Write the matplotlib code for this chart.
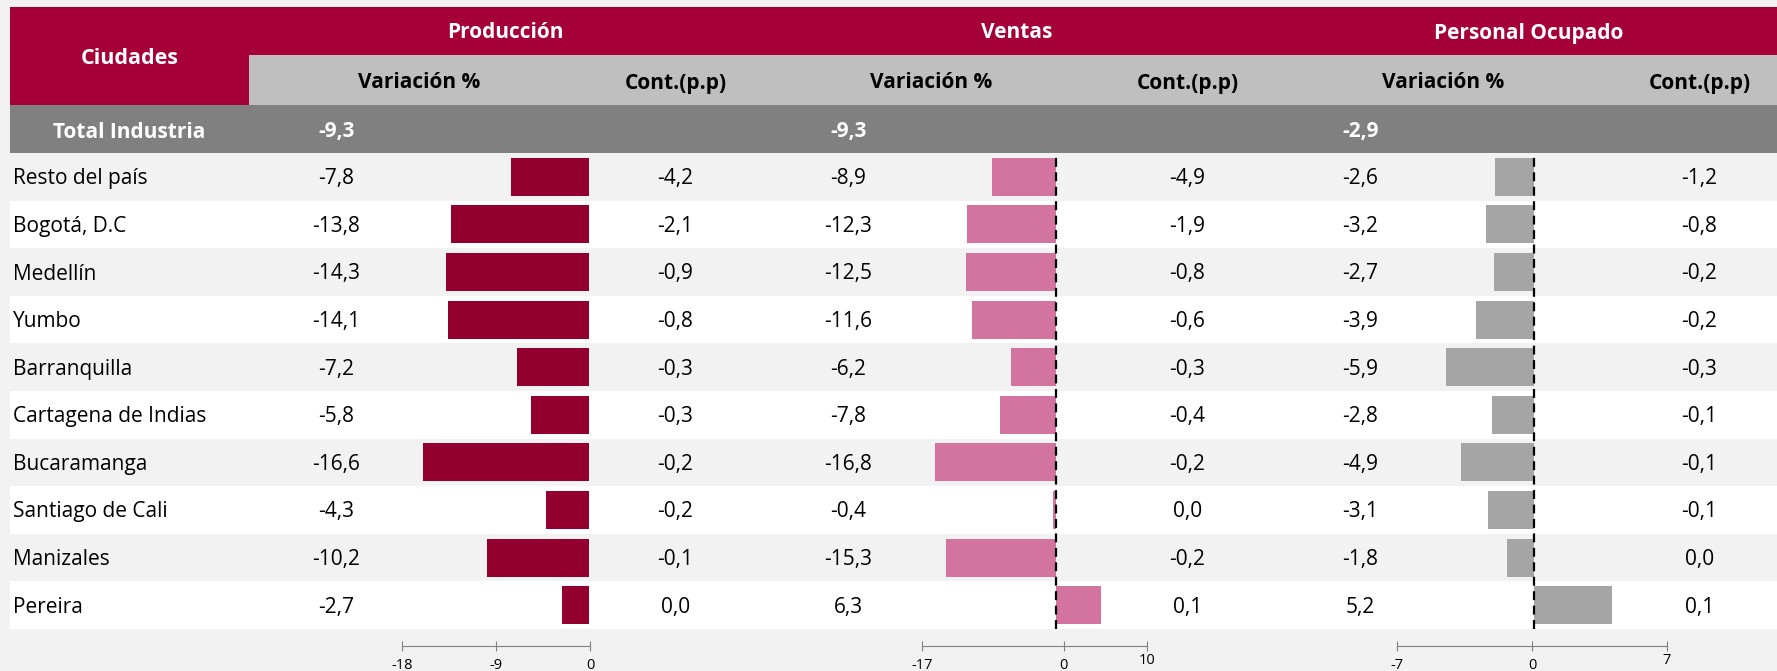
import matplotlib.pyplot as plt
from matplotlib.patches import Rectangle
from matplotlib.transforms import ScaledTranslation

# data
cities = ["Resto del país", "Bogotá, D.C", "Medellín", "Yumbo", "Barranquilla",
          "Cartagena de Indias", "Bucaramanga", "Santiago de Cali", "Manizales", "Pereira"]
prod_var = [-7.8, -13.8, -14.3, -14.1, -7.2, -5.8, -16.6, -4.3, -10.2, -2.7]
prod_cont = [-4.2, -2.1, -0.9, -0.8, -0.3, -0.3, -0.2, -0.2, -0.1, 0.0]
ventas_var = [-8.9, -12.3, -12.5, -11.6, -6.2, -7.8, -16.8, -0.4, -15.3, 6.3]
ventas_cont = [-4.9, -1.9, -0.8, -0.6, -0.3, -0.4, -0.2, 0.0, -0.2, 0.1]
pers_var = [-2.6, -3.2, -2.7, -3.9, -5.9, -2.8, -4.9, -3.1, -1.8, 5.2]
pers_cont = [-1.2, -0.8, -0.2, -0.2, -0.3, -0.1, -0.1, -0.1, 0.0, 0.1]
total_var = [-9.3, -9.3, -2.9]
groups = ["Producción", "Ventas", "Personal Ocupado"]
scale_ticks = [[-18, -9, 0], [-17, 0, 10], [-7, 0, 7]]

plt.rcParams['font.family'] = ['Open Sans', 'DejaVu Sans']
plt.rcParams['axes.unicode_minus'] = False

W, H = 1777, 671
RED = "#A50038"
SUB = "#BFBFBF"
TOT = "#808080"
LIGHT = "#F2F2F2"
bar_colors = ["#930030", "#D273A0", "#A5A5A5"]
FS = 15
FSB = 15


def fmt(v):
    return f"{v:.1f}".replace(".", ",").replace("-0,0", "0,0")


def rect(x0, y0, x1, y1):
    return [x0 / W, 1 - y1 / H, (x1 - x0) / W, (y1 - y0) / H]


fig = plt.figure(figsize=(W / 100, H / 100), dpi=100, facecolor=LIGHT)
bg = fig.add_axes([0, 0, 1, 1])
bg.set_xlim(0, W)
bg.set_ylim(H, 0)
bg.axis("off")

left, top = 10, 7
city_w = 249
group_w = 512
var_w = 341
row_top, row_h = 153, 47.6
dy = 2  # small text baseline nudge

# header cells
bg.add_patch(Rectangle((left, top), W - left, 48, color=RED, lw=0))
bg.add_patch(Rectangle((left, top), city_w - left, 98, color=RED, lw=0))
bg.add_patch(Rectangle((city_w, 55), W - city_w, 50, color=SUB, lw=0))
bg.add_patch(Rectangle((left, 105), W - left, 48, color=TOT, lw=0))
bg.text((left + city_w) / 2, 56 + dy, "Ciudades", color="white", fontsize=15.5,
        fontweight="bold", ha="center", va="center")
bg.text((left + city_w) / 2, 130 + dy, "Total Industria", color="white", fontsize=FSB,
        fontweight="bold", ha="center", va="center")

var_cols = [prod_var, ventas_var, pers_var]
cont_cols = [prod_cont, ventas_cont, pers_cont]

# rows
for i, name in enumerate(cities):
    y = row_top + i * row_h
    bg.add_patch(Rectangle((left, y), W - left, row_h,
                           color=LIGHT if i % 2 == 0 else "white", lw=0))
    bg.text(left + 3, y + row_h / 2 + dy, name, fontsize=FS, ha="left", va="center")

for g, name in enumerate(groups):
    gx = city_w + g * group_w
    cont_x = gx + var_w + (group_w - var_w) / 2
    bg.text(gx + group_w / 2, 31 + dy, name, color="white", fontsize=FSB,
            fontweight="bold", ha="center", va="center")
    bg.text(gx + var_w / 2, 81 + dy, "Variación %", fontsize=FSB,
            fontweight="bold", ha="center", va="center")
    bg.text(cont_x, 81 + dy, "Cont.(p.p)", fontsize=FSB,
            fontweight="bold", ha="center", va="center")
    bg.text(gx + 88, 130 + dy, fmt(total_var[g]), color="white", fontsize=FSB,
            fontweight="bold", ha="center", va="center")
    for i in range(len(cities)):
        y = row_top + i * row_h + row_h / 2 + dy
        bg.text(gx + 87, y, fmt(var_cols[g][i]), fontsize=FS, ha="center", va="center")
        bg.text(cont_x, y, fmt(cont_cols[g][i]), fontsize=FS, ha="center", va="center")

# bar panels: (x of left edge, x of right edge, limits)
bar_boxes = [(409, 589, (-18, 0)), (933.6, 1128, (-17, 10)), (1429, 1639, (-7, 7))]
scale_boxes = [(402, 590, (-18, 0)), (922, 1147, (-17, 10)), (1397, 1667, (-7, 7))]
row_bottom = row_top + len(cities) * row_h

for g in range(3):
    x0, x1, lim = bar_boxes[g]
    ax = fig.add_axes(rect(x0, row_top, x1, row_bottom))
    ax.patch.set_alpha(0)
    ax.barh([i + 0.5 for i in range(len(cities))], var_cols[g], height=0.8,
            color=bar_colors[g], lw=0)
    if g > 0:
        ax.axvline(0, color="black", lw=1.6, ls=(0, (4, 2.5)))
    ax.set_xlim(*lim)
    ax.set_ylim(len(cities), 0)
    ax.axis("off")

    s0, s1, slim = scale_boxes[g]
    sx = fig.add_axes(rect(s0, 640, s1, 652))
    sx.patch.set_alpha(0)
    sx.set_xlim(*slim)
    sx.set_yticks([])
    for side in ["top", "left", "right"]:
        sx.spines[side].set_visible(False)
    sx.spines["bottom"].set_position(("axes", 0.5))
    sx.spines["bottom"].set_color("#808080")
    sx.set_xticks(scale_ticks[g])
    sx.tick_params(axis="x", direction="inout", length=7, color="#808080",
                   labelsize=10.5, pad=5)
    if g > 0:
        lab = sx.get_xticklabels()[-1]
        lab.set_transform(lab.get_transform() + ScaledTranslation(0, 5 / 100, fig.dpi_scale_trans))

fig.savefig("out.png", dpi=100, facecolor=LIGHT)
